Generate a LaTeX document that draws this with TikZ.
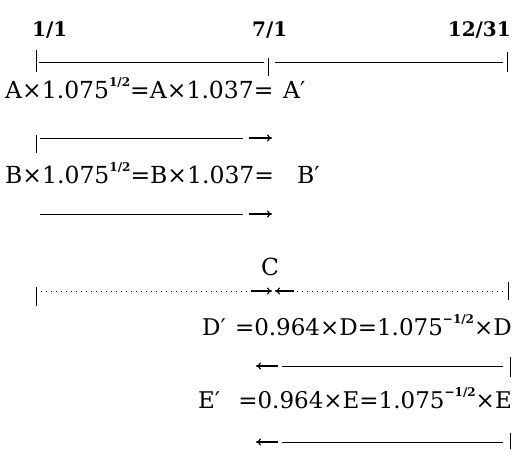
\documentclass[tikz,border=0pt]{standalone}
\usepackage{fontspec}
\setmainfont{DejaVu Serif}
\usetikzlibrary{arrows.meta}
\newcommand\sups[1]{\raisebox{0.5em}{\fontsize{12}{12}\selectfont\bfseries #1}}
\begin{document}
\begin{tikzpicture}[x=1pt,y=-1pt,
  txt/.style={inner sep=0pt, font=\fontsize{23.5}{26}\selectfont},
  txtb/.style={inner sep=0pt, font=\fontsize{23}{26}\selectfont},
  lbl/.style={inner sep=0pt, font=\fontsize{20}{24}\selectfont\bfseries},
  tl/.style={line width=0.7pt},
  dotline/.style={line width=1pt, dash pattern=on 1pt off 4pt},
  arr/.style={line width=1.1pt,-{To[length=5pt,width=7pt]}}]
\useasboundingbox (0,0) rectangle (515,450);
% labels
\node[lbl, anchor=base west] (d1) at (32,36) {1/1};
\node[lbl, anchor=base west] (d2) at (252,36) {7/1};
\node[lbl, anchor=base east] (d3) at (511,36) {12/31};
% timeline
\coordinate (t0a) at (36,50); \coordinate (t0b) at (36,72);
\coordinate (t1a) at (268,58); \coordinate (t1b) at (268,76);
\coordinate (t2a) at (507,52); \coordinate (t2b) at (507,72);
\coordinate (l1a) at (39,62); \coordinate (l1b) at (264,62);
\coordinate (l2a) at (275,62); \coordinate (l2b) at (503,62);
\draw[tl] (t0a) -- (t0b); \draw[tl] (t1a) -- (t1b); \draw[tl] (t2a) -- (t2b);
\draw[tl] (l1a) -- (l1b); \draw[tl] (l2a) -- (l2b);
% A row
\node[txt, anchor=base west] (arow) at (5,98) {A×1.075\sups{1/2}=A×1.037=};
\node[txt, anchor=base west] (aprime) at (283,98) {A′};
% arrow row 1
\coordinate (r1t) at (36,135); \coordinate (r1b) at (36,153);
\coordinate (r1a) at (40,138); \coordinate (r1e) at (243,138);
\coordinate (r1s) at (249,138); \coordinate (r1h) at (272,138);
\draw[tl] (r1t) -- (r1b); \draw[tl] (r1a) -- (r1e); \draw[arr] (r1s) -- (r1h);
% B row
\node[txt, anchor=base west] (brow) at (5,183) {B×1.075\sups{1/2}=B×1.037=};
\node[txt, anchor=base west] (bprime) at (297,183) {B′};
% arrow row 2
\coordinate (r2a) at (40,214); \coordinate (r2e) at (243,214);
\coordinate (r2s) at (249,214); \coordinate (r2h) at (272,214);
\draw[tl] (r2a) -- (r2e); \draw[arr] (r2s) -- (r2h);
% C
\node[txt, anchor=base] (c) at (270,275) {C};
% dotted row
\coordinate (r3t) at (36,287); \coordinate (r3b) at (36,306);
\coordinate (r3a) at (41,291); \coordinate (r3e) at (250,291);
\coordinate (r3s) at (251,291); \coordinate (r3h) at (272,291);
\coordinate (r3s2) at (294,291); \coordinate (r3h2) at (275,291);
\coordinate (r3f) at (297,291); \coordinate (r3g) at (503,291);
\coordinate (r3u) at (508,282); \coordinate (r3v) at (508,300);
\draw[tl] (r3t) -- (r3b); \draw[dotline] (r3a) -- (r3e);
\draw[arr] (r3s) -- (r3h); \draw[arr] (r3s2) -- (r3h2);
\draw[dotline] (r3f) -- (r3g); \draw[tl] (r3u) -- (r3v);
% D row
\node[txtb, anchor=base west] (dprime) at (202,335) {D′};
\node[txtb, anchor=base east] (drow) at (512,335) {=0.964×D=1.075\sups{−1/2}×D};
% arrow row 4
\coordinate (r4s) at (278,366); \coordinate (r4h) at (256,366);
\coordinate (r4a) at (282,366); \coordinate (r4e) at (503,366);
\coordinate (r4u) at (510,357); \coordinate (r4v) at (510,377);
\draw[arr] (r4s) -- (r4h); \draw[tl] (r4a) -- (r4e); \draw[tl] (r4u) -- (r4v);
% E row
\node[txtb, anchor=base west] (eprime) at (198,408) {E′};
\node[txtb, anchor=base east] (erow) at (512,408) {=0.964×E=1.075\sups{−1/2}×E};
% arrow row 5
\coordinate (r5s) at (278,442); \coordinate (r5h) at (256,442);
\coordinate (r5a) at (282,442); \coordinate (r5e) at (503,442);
\coordinate (r5u) at (510,433); \coordinate (r5v) at (510,449);
\draw[arr] (r5s) -- (r5h); \draw[tl] (r5a) -- (r5e); \draw[tl] (r5u) -- (r5v);
\end{tikzpicture}
\end{document}
